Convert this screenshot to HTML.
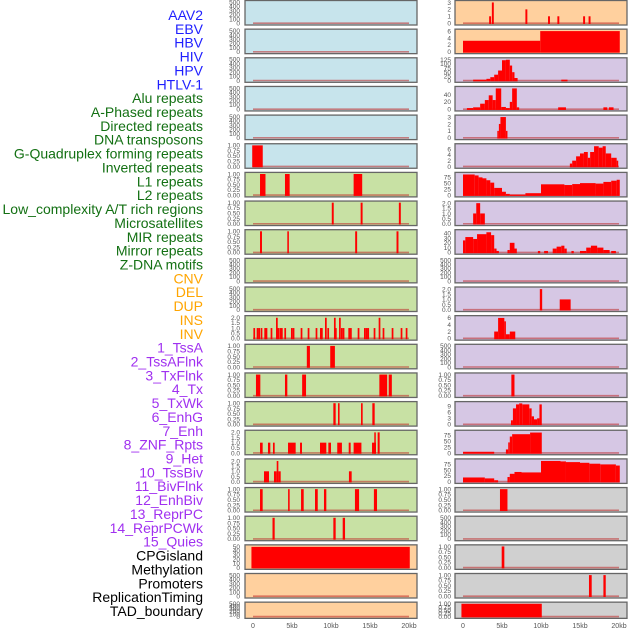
<!DOCTYPE html>
<html><head><meta charset="utf-8">
<style>
html,body{margin:0;padding:0;background:#fff;}
svg{display:block;font-family:"Liberation Sans",sans-serif;}
</style></head>
<body>
<svg id="chart" width="630" height="630" viewBox="0 0 630 630" xmlns="http://www.w3.org/2000/svg"></svg>
<script>
// ---- labels ----
const labelNames = ["AAV2","EBV","HBV","HIV","HPV","HTLV-1","Alu repeats","A-Phased repeats","Directed repeats","DNA transposons","G-Quadruplex forming repeats","Inverted repeats","L1 repeats","L2 repeats","Low_complexity A/T rich regions","Microsatellites","MIR repeats","Mirror repeats","Z-DNA motifs","CNV","DEL","DUP","INS","INV","1_TssA","2_TssAFlnk","3_TxFlnk","4_Tx","5_TxWk","6_EnhG","7_Enh","8_ZNF_Rpts","9_Het","10_TssBiv","11_BivFlnk","12_EnhBiv","13_ReprPC","14_ReprPCWk","15_Quies","CPGisland","Methylation","Promoters","ReplicationTiming","TAD_boundary"];
const labelGroups = [6,13,5,15,5];
const groupColors = ["#1f1fff","#137013","#ffa500","#a030f0","#000000"];

// ---- x ticks ----
const xTickValues = [0,5,10,15,20];
const xTickLabels = ["0","5kb","10kb","15kb","20kb"];

// ---- y tick sets ----
const t500 = [0,100,200,300,400,500];
const t500L = ["0","100","200","300","400","500"];
const t1 = [0,0.25,0.5,0.75,1];
const t1L = ["0.00","0.25","0.50","0.75","1.00"];
const t2 = [0,0.5,1,1.5,2];
const t2L = ["0.0","0.5","1.0","1.5","2.0"];

// ---- left column series: [startKb, endKb, value] ----
const gquadL = [[-0.1,1.25,1]];
const l1L = [[0.9,1.6,1],[4.1,4.7,1],[12.9,14.0,1]];
const lowL = [[10.1,10.35,1],[13.8,14.05,1],[18.7,18.95,1]];
const mirL = [[0.9,1.15,1],[4.4,4.6,1],[13.1,13.35,1],[18.4,18.65,1]];
const insPos = [0.05,0.47,0.68,0.98,1.45,1.62,2.26,2.95,3.12,3.38,3.59,4.02,4.87,5.09,6.11,7.01,8.03,8.59,8.72,9.23,9.53,10.38,10.51,11.03,11.28,11.5,12.22,12.44,13.42,14.23,14.45,14.66,15.47,16.11,16.62,17.78,18.93,19.58];
const insVal = [1,1,1,1,1,1,1,2,1,1,1,1,1,1,1,1,1,1,1,2,1,2,1,2,1,1,1,1,1,1,1,1,1,2,1,1,1,1];
const tssaL = [[6.9,7.3,1],[9.9,10.5,1]];
const tssaflnkL = [[0.38,0.94,1],[4.1,4.4,1],[6.3,6.8,1],[16.2,17.2,1],[17.4,17.8,1]];
const txflnkL = [[10.3,10.6,1],[10.9,11.1,1],[13.85,14.06,1],[15.3,15.6,1]];
const txL = [[0.9,1.24,1],[1.92,2.22,1],[2.56,2.78,1],[4.49,5.47,1],[6.03,6.28,1],[8.59,9.4,1],[9.66,10.0,1],[10.8,11.4,1],[12.27,12.52,1],[12.9,13.9,1],[15.26,15.77,1],[15.55,15.73,2],[15.98,16.24,2]];
const txwkL = [[1.41,2.05,1],[2.69,3.04,1],[3.04,3.25,2],[3.25,3.55,1],[12.3,12.65,1]];
const enhgL = [[0.9,1.24,1],[4.5,4.7,1],[6.16,6.5,1],[7.95,8.3,1],[9.1,9.4,1],[13.07,13.6,1],[15.5,15.9,1]];
const enhL = [[2.5,2.78,1],[10.3,10.6,1],[11.5,11.8,1]];
const cnvL = [[-0.2,20.1,49]];

// ---- right column series ----
const aav2R = [[3.35,3.6,1],[3.7,3.95,3],[8.0,8.25,2],[10.9,11.15,1],[12.1,12.35,1],[15.4,15.65,1],[16.1,16.35,1]];
const ebvR = [[0,9.9,3.2],[9.9,20.1,6]];
const hbvR = [[1.3,3,5],[3,3.5,10],[3.5,4,20],[4,4.5,35],[4.5,5,60],[5,5.5,122],[5.5,6,125],[6,6.3,90],[6.3,6.6,50],[6.6,7,15],[12.6,13.4,5]];
const hivR = [[0.5,1.3,3],[1.3,2.2,5],[2.2,2.8,15],[2.8,3.3,25],[3.3,3.8,38],[3.8,4.2,25],[4.2,4.9,57],[4.9,5.5,6],[5.5,6.0,3],[6.0,6.3,20],[6.3,6.9,57],[6.9,7.2,5],[12.2,13.2,5],[18.0,18.5,5],[18.7,19.3,5]];
const hpvR = [[4.4,4.6,1],[4.6,4.8,2],[4.8,5.5,3],[5.5,5.7,1]];
const htlvR = [[13.7,14,1],[14,14.5,2],[14.5,15,3.5],[15,15.5,4.5],[15.5,16,5],[16,16.3,3],[16.3,16.8,5],[16.8,17.4,7],[17.4,17.9,6.5],[17.9,18.3,7],[18.3,19,4.5],[19,19.7,3],[19.7,19.9,2]];
const aluR = [[0,1.5,86],[1.5,2,82],[2,2.5,74],[2.5,3,70],[3,3.5,62],[3.5,4,52],[4,5,30],[5,5.5,14],[5.5,6,5],[6,8,2],[8,10,8],[10,13,45],[13,14,42],[14,15,46],[15,17,50],[17,18,48],[18,19,55],[19,19.7,60],[19.7,20.1,64]];
const aphasedR = [[1.3,1.7,1],[1.7,2.2,2],[2.2,2.8,1]];
const directedR = [[0,0.3,25],[0.3,1.3,32],[1.3,1.8,28],[1.8,3.0,38],[3.0,3.6,42],[3.6,4.0,36],[4.0,4.3,8],[4.3,4.6,3],[5.7,6.0,5],[6.0,6.6,20],[6.6,6.9,8],[9.6,9.9,3],[10.4,10.9,3],[11.5,12.0,8],[12.0,12.6,12],[12.6,13.0,14],[13.0,13.3,8],[13.9,14.2,3],[15.0,15.8,3],[15.8,16.4,10],[16.4,17.2,14],[17.2,18.0,10],[18.0,18.8,5],[19.0,19.6,3]];
const gquadR = [];
const lowR = [[9.85,10.15,2],[12.4,13.8,1]];
const microR = [[4.0,4.5,2],[4.5,5.3,6],[5.3,5.5,5],[5.5,6.0,1.2],[6.0,6.7,2]];
const mirrorR = [];
const zdnaR = [[6.2,6.6,1]];
const cnvR = [[6.15,6.4,2],[6.4,6.8,8],[6.8,7.2,10],[7.2,7.6,10.5],[7.6,8.5,10],[8.5,8.8,8],[8.8,9.1,4],[9.1,9.5,2.5],[9.5,9.8,3],[9.8,10.1,10]];
const delR = [[0,4,5],[5.5,5.8,15],[5.8,6.0,45],[6.0,6.3,70],[6.3,8.6,80],[8.6,10.1,87]];
const dupR = [[0,2.8,18],[2.8,4,14],[4,4.5,6],[5.7,6,20],[6,6.6,34],[6.6,7.5,42],[7.5,10,40],[10,12.5,90],[12.5,13.2,88],[13.2,15,85],[15,16.2,82],[16.2,17.6,78],[17.6,19.6,75],[19.6,20.1,70]];
const insR = [[4.74,5.7,1]];
const invR = [];
const tssaR = [[4.96,5.3,1]];
const tssaflnkR = [[16.15,16.5,1],[18.0,18.3,1]];
const txflnkR = [[-0.2,10.1,1]];

const purple="#d6c7e4", blue="#c7e4ec", green="#c8e1a4", orange="#ffd09e", gray="#d0d0d0";

// rows: [leftSeries, leftBg, leftTicks, leftTickLabels, leftMax, rightSeries, rightBg, rightTicks, rightLabels, rightMax]
const rows = [
 [[],blue,t500,t500L,500, aav2R,orange,[0,1,2,3],["0","1","2","3"],3.05],
 [[],blue,t500,t500L,500, ebvR,orange,[0,2,4,6],["0","2","4","6"],6.1],
 [[],blue,t500,t500L,500, hbvR,purple,[0,25,50,75,100,125],["0","25","50","75","100","125"],127],
 [[],blue,t500,t500L,500, hivR,purple,[0,20,40],["0","20","40"],58],
 [[],blue,t500,t500L,500, hpvR,purple,[0,1,2,3],["0","1","2","3"],3.05],
 [gquadL,blue,t1,t1L,1, htlvR,purple,[0,2,4,6],["0","2","4","6"],7.3],
 [l1L,green,t1,t1L,1, aluR,purple,[0,25,50,75],["0","25","50","75"],88],
 [lowL,green,t1,t1L,1, aphasedR,purple,t2,t2L,2.05],
 [mirL,green,t1,t1L,1, directedR,purple,[0,10,20,30,40],["0","10","20","30","40"],44],
 [[],green,t500,t500L,500, gquadR,purple,t500,t500L,500],
 [[],green,t500,t500L,500, lowR,purple,t2,t2L,2.05],
 [null,green,t2,t2L,2.05, microR,purple,[0,2,4,6],["0","2","4","6"],6.2],
 [tssaL,green,t1,t1L,1, mirrorR,purple,t500,t500L,500],
 [tssaflnkL,green,t1,t1L,1, zdnaR,purple,t1,t1L,1],
 [txflnkL,green,t1,t1L,1, cnvR,purple,[0,3,6,9],["0","3","6","9"],10.6],
 [txL,green,t2,t2L,2.05, delR,purple,[0,25,50,75],["0","25","50","75"],90],
 [txwkL,green,t2,t2L,2.05, dupR,purple,[0,25,50,75],["0","25","50","75"],92],
 [enhgL,green,t1,t1L,1, insR,gray,t1,t1L,1],
 [enhL,green,t1,t1L,1, invR,gray,t500,t500L,500],
 [cnvL,orange,[0,10,20,30,40,50],["0","10","20","30","40","50"],50, tssaR,gray,t1,t1L,1],
 [[],orange,t500,t500L,500, tssaflnkR,gray,t1,t1L,1],
 [[],orange,t500,t500L,500, txflnkR,gray,t1,t1L,1]
];

const NS="http://www.w3.org/2000/svg";
const svg=document.getElementById('chart');
function mk(tag,attrs,parent){const e=document.createElementNS(NS,tag);for(const k in attrs)e.setAttribute(k,attrs[k]);(parent||svg).appendChild(e);return e;}

// labels
let li=0;
labelGroups.forEach((n,g)=>{for(let k=0;k<n;k++){const y=15+li*13.86;
 const t=mk('text',{x:203,y:y+5,'text-anchor':'end','font-size':14,fill:groupColors[g]});
 t.textContent=labelNames[li];
 
 
 li++;}});

const cols=[{px:245,pw:172,x0:253,x20:409,ta:240},{px:455,pw:172,x0:463,x20:619,ta:451}];
function xs(c,kb){return c.x0+(c.x20-c.x0)*kb/20;}

function drawPanel(c,top,h,series,bg,ticks,tl,ymax,side){
 const g=mk('g',{});
 
 
 const bgR=mk('rect',{x:c.px,y:top,width:c.pw,height:h,fill:bg},g);
 
 
 const bot=top+h-1.8, span=h-3.4;
 const ys=v=>bot-span*v/ymax;
 ticks.forEach((v,i)=>{const t=mk('text',{x:c.ta,y:ys(v)+2.3,'text-anchor':'end','font-size':6.5,fill:'#555'},g);
  t.textContent=tl[i];
  
  });
 const base=mk('line',{x1:xs(c,0),x2:xs(c,20),y1:bot,y2:bot,stroke:'rgba(190,40,40,0.55)','stroke-width':1.6},g);
 
 
 series.forEach(s=>{const x1=xs(c,s[0]),x2=xs(c,s[1]);const y=Math.max(ys(s[2]),top+0.8);
  const r=mk('rect',{x:x1,y:y,width:Math.max(x2-x1,1.5),height:bot-y+0.8,fill:'#ff0000'},g);
  
  });
 const fr=mk('rect',{x:c.px,y:top,width:c.pw,height:h,fill:'none',stroke:'#666','stroke-width':1.3},g);
 
 
}

const insSeries = insPos.map((p,i)=>[p,p+0.22,insVal[i]]);
rows.forEach((r,i)=>{
 const top=i*28.65+0.5, h=(i===rows.length-1)?16.2:24.5;
 drawPanel(cols[0],top,h,r[0]===null?insSeries:r[0],r[1],r[2],r[3],r[4],'left');
 drawPanel(cols[1],top,h,r[5],r[6],r[7],r[8],r[9],'right');
});

cols.forEach((c,ci)=>{xTickValues.forEach((v,i)=>{
 const t=mk('text',{x:xs(c,v),y:628,'text-anchor':'middle','font-size':7,fill:'#555'});
 t.textContent=xTickLabels[i];
 
 });});
</script>
</body></html>
